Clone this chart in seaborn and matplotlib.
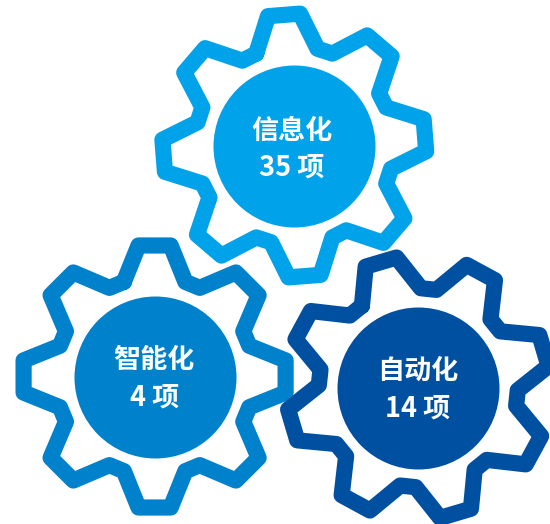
import numpy as np
import pandas as pd
import matplotlib
matplotlib.use("Agg")
import matplotlib.pyplot as plt
import seaborn as sns

categories = ["信息化", "智能化", "自动化"]
counts = [35, 4, 14]
colors = ["#00A2E9", "#0081CC", "#0050A2"]

center_x = [294.3, 154.6, 418.3]
center_y = [145.5, 376.5, 387.7]
rotation_deg = [-4.5, 0.0, -16.5]
text_x = [291.8, 154.3, 418.0]
text_y1 = [130.5, 359.5, 370.7]
text_y2 = [168.0, 397.5, 408.2]

TEETH = 8
TIP_R, TIP_HALF = 132.0, 7.0
ROOT_R, ROOT_HALF = 99.5, 18.0
HUB_R = 81.0
STROKE_PX = 16.2
DPI = 100


def gear_outline(cx, cy, rot):
    xs, ys = [], []
    for k in range(TEETH + 1):
        a0 = rot + k * 360.0 / TEETH
        for off, r in ((-ROOT_HALF, ROOT_R), (-TIP_HALF, TIP_R),
                       (TIP_HALF, TIP_R), (ROOT_HALF, ROOT_R)):
            a = np.deg2rad(a0 + off)
            xs.append(cx + r * np.sin(a))
            ys.append(cy - r * np.cos(a))
    return pd.DataFrame({"x": xs[:-3], "y": ys[:-3]})


sns.set_style("white")
plt.rcParams["font.family"] = ["Noto Sans CJK SC", "DejaVu Sans"]

fig = plt.figure(figsize=(5.5, 5.24), dpi=DPI)
ax = fig.add_axes([0, 0, 1, 1])

for i, name in enumerate(categories):
    sns.lineplot(data=gear_outline(center_x[i], center_y[i], rotation_deg[i]),
                 x="x", y="y", sort=False, estimator=None, ax=ax,
                 color=colors[i], linewidth=STROKE_PX * 72 / DPI,
                 solid_joinstyle="round", solid_capstyle="round")
    hub_diameter_pt = 2 * HUB_R * 72 / DPI
    sns.scatterplot(x=[center_x[i]], y=[center_y[i]], ax=ax, color=colors[i],
                    s=hub_diameter_pt ** 2, linewidth=0, marker="o")
    ax.text(text_x[i], text_y1[i], name, color="white", fontsize=19.5,
            fontweight="bold", ha="center", va="center")
    ax.text(text_x[i], text_y2[i], f"{counts[i]} 项", color="white",
            fontsize=19.5, fontweight="bold", ha="center", va="center")

ax.set_xlim(0, 550)
ax.set_ylim(524, 0)
ax.axis("off")
fig.savefig("out.png", dpi=DPI, facecolor="white")
